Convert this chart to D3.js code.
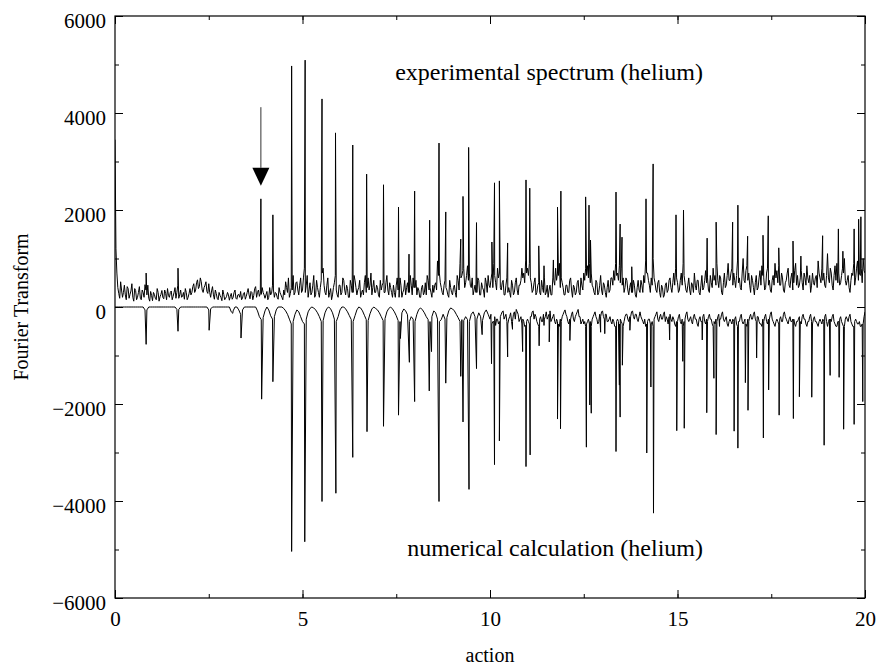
<!DOCTYPE html>
<html>
<head>
<meta charset="utf-8">
<script src="https://cdn.jsdelivr.net/npm/d3@7"></script>
<style>
  body { margin: 0; background: #fff; }
  text { font-family: "Liberation Serif", "Times New Roman", serif; fill: #000; }
</style>
</head>
<body>
<svg></svg>
<script>
// sampling step of the background traces (action units)
var step = 0.05;

// experimental spectrum, background read every 0.05 from 0 to 20
var expNoiseA = [3450,700,280,520,200,450,150,380,260,480,
  120,340,200,420,150,300,460,250,180,320,
  130,260,150,300,210,340,170,280,380,200,
  330,220,400,300,180,350,220,160,300,200,
  380,300,480,350,560,420,520,300,450,320,
  480,200,420,160,280,150,240,130,260,180,
  300,140,280,200,350,160,260,320,180,300,
  220,380,170,300,240,420,300,220,260,300,
  180,320,200,250,450,200,280,160,300,200,
  350,520,300,200,400,650,300,520,250,600];
var expNoiseB = [350,800,450,200,500,300,650,250,400,200,
  550,800,300,450,200,380,250,500,350,200,
  450,300,550,250,380,200,450,300,550,250,
  400,200,350,500,300,600,450,250,550,300,
  400,200,350,500,300,650,250,400,200,300,
  450,350,600,200,350,250,500,300,450,600,
  400,250,350,200,450,300,250,550,400,200,
  300,500,950,700,400,250,550,350,200,400,
  250,450,200,550,900,650,800,500,850,700,
  400,250,450,300,550,250,400,200,500,650];
var expNoiseC = [400,700,900,500,800,700,350,550,250,600,
  400,200,450,300,600,250,450,800,700,950,
  800,900,500,350,600,300,500,250,400,600,
  300,200,450,250,550,800,700,900,600,400,
  250,450,300,600,200,400,300,550,250,450,
  700,800,850,900,700,400,250,500,300,650,
  250,450,200,550,350,600,750,900,700,850,
  800,600,400,550,250,500,300,450,200,550,
  300,450,650,950,700,450,600,1000,500,300,
  550,200,400,250,500,350,600,300,700,800];
var expNoiseD = [500,350,700,900,500,300,600,250,450,700,
  350,550,250,650,400,750,600,300,500,800,
  650,900,400,600,250,700,450,900,550,800,
  700,400,950,600,350,1000,500,850,700,300,
  550,250,650,400,750,850,600,400,800,550,
  300,650,900,750,850,450,600,300,550,800,
  400,700,500,900,650,450,750,350,600,850,
  500,300,700,450,650,950,600,800,700,400,
  1100,500,700,350,850,900,700,500,800,1000,
  450,650,300,700,900,600,950,700,800,1000,
  700];

// experimental background in between, read at 0.025, 0.075, ... 19.975
var expMidA = [1200,400,180,350,300,250,420,180,330,200,
  380,150,300,180,350,200,350,450,120,240,
  300,180,380,120,260,200,350,150,240,300,
  150,300,180,450,250,200,300,380,150,280,
  250,420,300,500,380,600,350,400,520,280,
  300,330,250,350,180,300,200,350,150,220,
  250,220,160,300,180,250,200,150,280,160,
  300,250,320,150,380,200,350,280,400,250,
  250,150,400,280,350,300,200,400,250,150,
  250,400,600,280,350,250,500,350,450,300];
var expMidB = [600,300,650,350,250,450,200,550,300,400,
  700,450,250,600,300,150,400,650,250,450,
  250,600,350,450,200,550,300,650,400,350,
  550,300,250,650,400,350,700,400,300,450,
  250,550,450,300,500,350,500,300,450,200,
  600,200,450,300,550,400,300,650,250,400,
  550,400,200,400,250,500,650,350,300,450,
  450,350,650,500,300,450,400,250,550,300,
  400,300,650,350,600,750,400,650,550,450,
  600,350,300,600,250,500,350,600,300,450];
var expMidC = [550,400,650,350,600,400,500,250,450,300,
  300,550,250,500,350,450,550,600,500,700,
  650,600,300,500,250,450,300,550,300,250,
  450,350,250,600,450,550,650,400,500,250,
  450,300,550,350,450,250,500,300,600,350,
  550,650,600,500,450,300,550,250,450,350,
  500,300,400,300,600,450,550,650,550,500,
  450,300,600,350,400,300,550,250,400,350,
  550,300,500,700,550,300,450,600,350,500,
  300,450,200,450,300,550,400,500,450,600];
var expMidD = [300,550,450,650,350,450,350,500,300,450,
  550,300,450,350,550,500,350,650,400,550,
  450,550,650,300,500,400,650,550,700,450,
  550,650,500,400,700,550,750,550,450,650,
  400,500,350,600,450,650,350,700,450,350,
  550,450,600,500,450,700,350,500,700,450,
  600,350,750,450,400,600,500,700,450,600,
  650,450,500,600,400,700,500,550,450,650,
  600,800,450,650,550,500,450,650,700,550,
  550,400,550,650,450,800,550,650,500,750];

// experimental peaks [action, height]
var expPeaks = [[0.83,700],[1.68,800],[3.89,2230],[4.21,1900],[4.71,4970],[5.07,5090],
  [5.52,4290],[5.88,3590],[6.34,3340],[6.71,2740],[7.16,2520],[7.56,2060],[7.84,1090],
  [7.99,2390],[8.39,1790],[8.64,3380],[8.82,1960],[9.22,1400],[9.28,2280],[9.43,3290],
  [9.64,1740],[10.05,1340],[10.12,2560],[10.25,2600],[10.47,1320],[10.96,2620],[11.06,2450],
  [11.3,1260],[11.44,850],[11.69,970],[11.8,2060],[11.89,2390],[12.55,2270],[12.64,2100],
  [12.68,1380],[13.36,2370],[13.47,1710],[13.52,1440],[13.78,830],[14.16,2230],[14.35,2950],
  [14.96,1900],[15.16,2000],[15.79,1420],[16.03,1750],[16.47,1750],[16.61,2100],[16.87,1460],
  [17.28,1480],[17.42,1880],[17.7,1220],[18.08,1360],[18.29,1050],[18.87,1470],[19.29,1610],
  [19.41,1150],[19.71,1610],[19.83,1810],[19.89,1860]];

// numerical calculation, background read every 0.05 from 0 to 20
var numBgA = [0,0,0,0,0,0,0,0,0,0,
  0,0,0,0,0,0,-60,-60,0,0,
  0,0,0,0,0,0,0,0,0,0,
  0,0,0,-50,-50,0,0,0,0,0,
  0,0,0,0,0,0,0,0,0,0,
  -60,-40,0,0,0,0,0,0,0,0,
  0,0,-100,-80,0,0,-60,-150,-60,0,
  0,0,0,0,0,0,-80,-200,-260,-220,
  -80,0,-60,-180,-250,-200,-60,0,0,0,
  -30,-80,-150,-250,-350,-300,-150,-60,-100,-200];
var numBgB = [-300,-350,-250,-100,-30,0,-20,-60,-120,-200,
  -300,-280,-120,-30,0,-40,-120,-250,-300,-200,
  -60,0,0,-40,-100,-180,-260,-300,-180,-60,
  0,-20,-80,-170,-260,-280,-140,-40,0,-30,
  -60,-120,-200,-280,-240,-100,-30,0,-40,-100,
  -180,-280,-300,-120,-40,-80,-160,-300,-200,-250,
  -300,-150,-50,-20,-60,-120,-200,-260,-300,-200,
  -80,-120,-250,-300,-260,-150,-250,-220,-80,-20,
  -40,-80,-150,-220,-300,-260,-280,-200,-260,-300,
  -150,-100,-200,-250,-120,-200,-280,-120,-60,-150];
var numBgC = [-250,-350,-300,-380,-250,-300,-150,-80,-200,-300,
  -250,-120,-300,-100,-50,-150,-250,-350,-300,-380,
  -250,-350,-200,-80,-150,-300,-400,-200,-300,-250,
  -100,-200,-80,-250,-150,-350,-300,-400,-300,-150,
  -60,-200,-350,-250,-100,-300,-150,-50,-200,-300,
  -350,-400,-300,-350,-400,-200,-100,-250,-300,-200,
  -80,-250,-150,-300,-200,-350,-300,-400,-250,-350,
  -300,-400,-200,-150,-300,-200,-80,-250,-150,-300,
  -100,-250,-350,-400,-300,-250,-350,-400,-200,-100,
  -300,-150,-250,-100,-200,-350,-150,-300,-250,-400];
var numBgD = [-300,-150,-350,-400,-250,-100,-300,-200,-350,-150,
  -250,-400,-200,-300,-150,-350,-300,-150,-250,-400,
  -350,-300,-150,-250,-100,-300,-200,-400,-250,-350,
  -300,-200,-400,-300,-150,-350,-250,-400,-300,-150,
  -250,-100,-300,-200,-350,-400,-300,-150,-350,-250,
  -100,-300,-400,-250,-350,-200,-300,-100,-250,-350,
  -200,-300,-250,-400,-300,-200,-350,-150,-250,-400,
  -300,-150,-350,-200,-300,-400,-250,-350,-300,-150,
  -400,-250,-300,-150,-350,-400,-300,-200,-350,-400,
  -200,-300,-150,-350,-400,-250,-350,-300,-400,-350,
  -100];

// numerical background in between, read at 10.025, 10.075, ... 19.975
var numMidC = [-150,-300,-200,-250,-350,-200,-100,-250,-150,-350,
  -200,-300,-150,-250,-100,-300,-200,-250,-400,-300,
  -300,-200,-100,-250,-200,-350,-250,-300,-150,-200,
  -250,-150,-300,-200,-300,-250,-350,-250,-200,-100,
  -150,-300,-250,-150,-250,-200,-100,-200,-350,-250,
  -300,-350,-250,-300,-250,-150,-200,-350,-150,-100,
  -200,-150,-300,-250,-300,-250,-400,-300,-300,-250,
  -350,-300,-150,-250,-200,-100,-200,-150,-250,-200,
  -200,-300,-250,-350,-250,-350,-300,-250,-150,-250,
  -200,-250,-150,-300,-250,-200,-250,-200,-350,-300];
var numMidD = [-200,-300,-250,-300,-150,-250,-250,-300,-200,-250,
  -350,-250,-300,-200,-300,-250,-200,-250,-350,-300,
  -250,-200,-250,-150,-250,-250,-350,-300,-300,-250,
  -250,-350,-300,-200,-300,-300,-350,-250,-200,-250,
  -150,-250,-200,-300,-350,-250,-200,-300,-250,-150,
  -250,-350,-300,-300,-250,-300,-150,-200,-300,-250,
  -300,-250,-350,-300,-250,-300,-200,-250,-350,-300,
  -200,-300,-250,-300,-350,-300,-300,-250,-200,-300,
  -300,-250,-200,-300,-400,-300,-250,-300,-400,-250,
  -250,-200,-300,-400,-300,-300,-350,-400,-350,-200];

// numerical dips [action, depth]
var numDips = [[0.83,-770],[1.68,-500],[2.51,-480],[3.14,-130],[3.36,-640],[3.91,-1900],
  [4.21,-1540],[4.71,-5040],[5.06,-4840],[5.52,-4010],[5.89,-3840],[6.34,-3100],[6.72,-2570],
  [7.16,-2460],[7.56,-2230],[7.61,-650],[7.85,-1140],[7.99,-1950],[8.38,-1730],[8.44,-920],
  [8.64,-4010],[8.82,-1570],[9.22,-1430],[9.28,-2370],[9.44,-3760],[9.64,-1270],[9.79,-570],
  [10.04,-1170],[10.12,-3250],[10.25,-2760],[10.47,-1030],[10.6,-460],[10.87,-920],
  [10.96,-3290],[11.07,-3050],[11.31,-800],[11.44,-380],[11.58,-720],[11.8,-2310],[11.88,-2510],
  [12.13,-690],[12.57,-2890],[12.66,-2020],[12.7,-2190],[12.95,-520],[13.06,-550],[13.36,-2980],
  [13.45,-1610],[13.47,-2270],[13.53,-1200],[13.73,-480],[14.18,-3010],[14.29,-1650],
  [14.36,-4250],[14.79,-680],[14.98,-2550],[15.14,-1120],[15.18,-2500],[15.66,-680],
  [15.78,-2180],[15.97,-1470],[16.03,-2630],[16.12,-400],[16.51,-2560],[16.61,-2910],
  [16.81,-1560],[16.88,-2130],[17.11,-1050],[17.29,-2700],[17.43,-1710],[17.71,-2230],
  [18.09,-2300],[18.25,-1850],[18.58,-1860],[18.91,-2850],[19.07,-1410],[19.31,-1450],
  [19.43,-2520],[19.71,-2420],[19.94,-1950]];

var xTicks = [0, 5, 10, 15, 20];
var yTicks = [-6000, -4000, -2000, 0, 2000, 4000, 6000];

var w = 878;
var h = 669;
var serif = '"Liberation Serif", "Times New Roman", serif';

var svg = d3.select('svg')
            .attr('width', w)
            .attr('height', h);

var x = d3.scaleLinear().domain([0, 20]).range([115, 865]);
var y = d3.scaleLinear().domain([-6000, 6000]).range([598, 16]);

// turn background samples (each with its start) plus spikes into one sorted point list
var buildTrace = function(series, spikes){
  var pts = [];
  series.forEach(function(s){
    s.values.forEach(function(v, i){ pts.push([s.start + i * step, v]); });
  });
  pts = pts.concat(spikes);
  pts.sort(function(a, b){ return a[0] - b[0]; });
  return pts;
};

var expData = buildTrace([
  {start: 0, values: expNoiseA.concat(expNoiseB, expNoiseC, expNoiseD)},
  {start: 0.025, values: expMidA.concat(expMidB, expMidC, expMidD)}
], expPeaks);
var numData = buildTrace([
  {start: 0, values: numBgA.concat(numBgB, numBgC, numBgD)},
  {start: 10.025, values: numMidC.concat(numMidD)}
], numDips);

svg.append('clipPath')
   .attr('id', 'plot')
   .append('rect')
   .attr('x', x(0))
   .attr('y', y(6000))
   .attr('width', x(20) - x(0))
   .attr('height', y(-6000) - y(6000));

var line = d3.line()
             .x(function(d){ return x(d[0]); })
             .y(function(d){ return y(d[1]); });

var traces = svg.append('g').attr('clip-path', 'url(#plot)');

traces.append('path')
      .datum(numData)
      .attr('d', line)
      .attr('fill', 'none')
      .attr('stroke', 'black')
      .attr('stroke-width', 1);

traces.append('path')
      .datum(expData)
      .attr('d', line)
      .attr('fill', 'none')
      .attr('stroke', 'black')
      .attr('stroke-width', 1);

// axes, ticks inward on all four sides
var xMinor = d3.range(0, 20.01, 2.5);
var yMinor = d3.range(-6000, 6001, 1000);

var addAxis = function(axis, tr){
  var g = svg.append('g')
             .attr('transform', tr)
             .call(axis)
             .attr('font-family', serif);
  g.select('.domain').remove();
  g.selectAll('line').attr('stroke', 'black');
  return g;
};

addAxis(d3.axisBottom(x).tickValues(xMinor).tickSize(-4).tickFormat(''), 'translate(0,' + y(-6000) + ')');
addAxis(d3.axisTop(x).tickValues(xMinor).tickSize(-4).tickFormat(''), 'translate(0,' + y(6000) + ')');
addAxis(d3.axisLeft(y).tickValues(yMinor).tickSize(-4).tickFormat(''), 'translate(' + x(0) + ',0)');
addAxis(d3.axisRight(y).tickValues(yMinor).tickSize(-4).tickFormat(''), 'translate(' + x(20) + ',0)');

var xAxis = addAxis(d3.axisBottom(x).tickValues(xTicks).tickSize(-8).tickPadding(13).tickFormat(d3.format('d')),
                    'translate(0,' + y(-6000) + ')');
addAxis(d3.axisTop(x).tickValues(xTicks).tickSize(-8).tickFormat(''), 'translate(0,' + y(6000) + ')');
var yAxis = addAxis(d3.axisLeft(y).tickValues(yTicks).tickSize(-8).tickPadding(9)
                      .tickFormat(function(d){ return d < 0 ? '\u2212' + Math.abs(d) : d; }),
                    'translate(' + x(0) + ',0)');
addAxis(d3.axisRight(y).tickValues(yTicks).tickSize(-8).tickFormat(''), 'translate(' + x(20) + ',0)');

xAxis.selectAll('text')
     .style('font-family', serif)
     .style('font-size', '21px')
     .attr('fill', 'black');
yAxis.selectAll('text')
     .style('font-family', serif)
     .style('font-size', '21px')
     .attr('dy', '0.55em')
     .attr('fill', 'black');

// frame
svg.append('rect')
   .attr('x', x(0))
   .attr('y', y(6000))
   .attr('width', x(20) - x(0))
   .attr('height', y(-6000) - y(6000))
   .attr('fill', 'none')
   .attr('stroke', 'black')
   .attr('stroke-width', 1.2);

// axis titles
svg.append('text')
   .attr('x', (x(0) + x(20)) / 2)
   .attr('y', 662)
   .attr('text-anchor', 'middle')
   .style('font-size', '20px')
   .text('action');

svg.append('text')
   .attr('transform', 'translate(28,' + y(0) + ') rotate(-90)')
   .attr('text-anchor', 'middle')
   .style('font-size', '20px')
   .text('Fourier Transform');

// labels
svg.append('text')
   .attr('x', x(7.47))
   .attr('y', y(4680))
   .style('font-size', '24px')
   .text('experimental spectrum (helium)');

svg.append('text')
   .attr('x', x(7.79))
   .attr('y', y(-5135))
   .style('font-size', '24px')
   .text('numerical calculation (helium)');

// arrow over the first peak
var arrowX = 3.89, arrowTop = 4120, arrowBase = 2870, arrowTip = 2500;
svg.append('line')
   .attr('x1', x(arrowX)).attr('x2', x(arrowX))
   .attr('y1', y(arrowTop)).attr('y2', y(arrowBase))
   .attr('stroke', '#333')
   .attr('stroke-width', 1);

svg.append('path')
   .attr('d', 'M' + (x(arrowX) - 8.5) + ',' + y(arrowBase) +
              'L' + (x(arrowX) + 8.5) + ',' + y(arrowBase) +
              'L' + x(arrowX) + ',' + y(arrowTip) + 'Z')
   .attr('fill', 'black');
</script>
</body>
</html>
